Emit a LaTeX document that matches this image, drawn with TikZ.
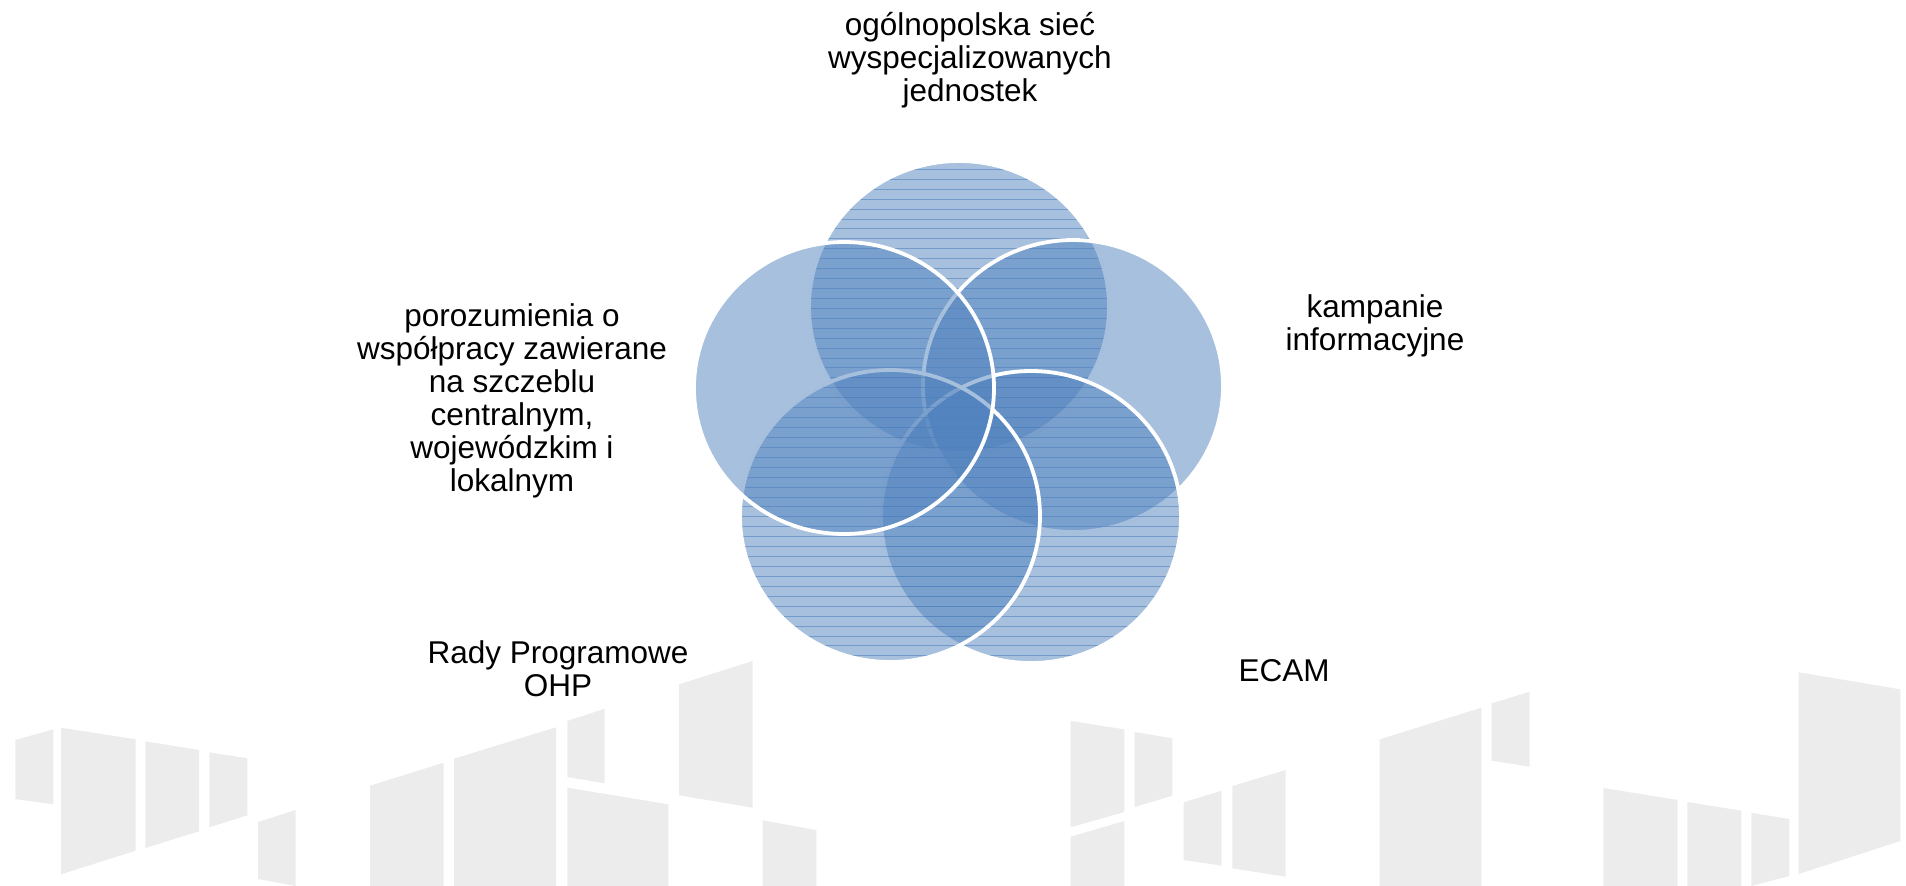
\documentclass[tikz,border=0pt]{standalone}
\usepackage{fontspec}
\setmainfont{Liberation Sans}
\definecolor{vennblue}{RGB}{79,129,189}
\definecolor{bldggray}{RGB}{236,236,236}
\tikzset{
    bubble/.style = {fill=vennblue, fill opacity=0.5},
    ring/.style = {draw=white, line width=3.8pt},
    hatch/.style = {draw=vennblue, draw opacity=0.6, line width=0.9pt},
    bldg/.style = {fill=bldggray},
    lbl/.style = {font=\fontsize{31.5}{33}\selectfont, align=center, inner sep=0pt, anchor=base}
}

\begin{document}
\begin{tikzpicture}[x=1pt, y=-1pt]
        \useasboundingbox (0,0) rectangle (1906,886);
        \foreach \xa/\xb/\ta/\tb/\ba/\bb in {15.3/53.3/740/729.3/799/804.3, 61/135.7/727.7/739.3/874.3/850.7,
            145.3/199/741.3/750/848/831.3, 209.3/247.3/752.3/758.3/827.3/815.3, 258/295.7/822/810/879/886,
            370/443.7/785.7/762.7/886/886, 454/556/758.7/727.3/886/886, 567.3/604.7/721/708.7/777/783.3,
            567.3/668.3/787.7/804.3/886/886, 679/752.7/684.3/661/795.3/807.7, 762.7/816.3/820.3/830/886/886,
            1070.7/1124.3/721/729.3/827.3/812, 1134.7/1172.3/732/738.3/807/795.7, 1070.7/1124.3/836.7/821/886/886,
            1183.7/1221.7/802.3/790.7/860/865.7, 1232.3/1285.7/786/770/868.3/876.7, 1379.7/1481.3/739.3/707.7/886/886,
            1491.7/1529.7/703.3/691.7/760.7/766.7, 1603.3/1677.7/788/800/886/886, 1687.3/1741.3/802/810.7/886/886,
            1751.3/1789.3/812.7/819/886/876, 1798.7/1900.3/672.3/689.3/874/841}
            \fill[bldg] (\xa,\ta) -- (\xb,\tb) -- (\xb,\bb) -- (\xa,\ba) -- cycle;
        \foreach \cx/\cy/\hl in {959/307/1, 1073/386/0, 1031/517/1, 890/516/1, 844/388/0} {
            \fill[bubble] (\cx,\cy) ellipse [x radius=150, y radius=146];
            \ifnum\hl=1
            \begin{scope}
                \clip (\cx,\cy) ellipse [x radius=150, y radius=146];
                \foreach \k in {0,...,50}
                    \draw[hatch] (\cx-150,169.3+9.93*\k) -- (\cx+150,169.3+9.93*\k);
            \end{scope}
            \fi
            \draw[ring] (\cx,\cy) ellipse [x radius=150, y radius=146];
        }
        \node[lbl] (network) at (970,101) {ogólnopolska sieć\\wyspecjalizowanych\\jednostek};
        \node[lbl] (campaign) at (1375,350) {kampanie\\informacyjne};
        \node[lbl] (agreement) at (512,491) {porozumienia o\\współpracy zawierane\\na szczeblu\\centralnym,\\wojewódzkim i\\lokalnym};
        \node[lbl] (councils) at (558,696) {Rady Programowe\\OHP};
        \node[lbl] (ecam) at (1284,681) {ECAM};
\end{tikzpicture}
\end{document}
